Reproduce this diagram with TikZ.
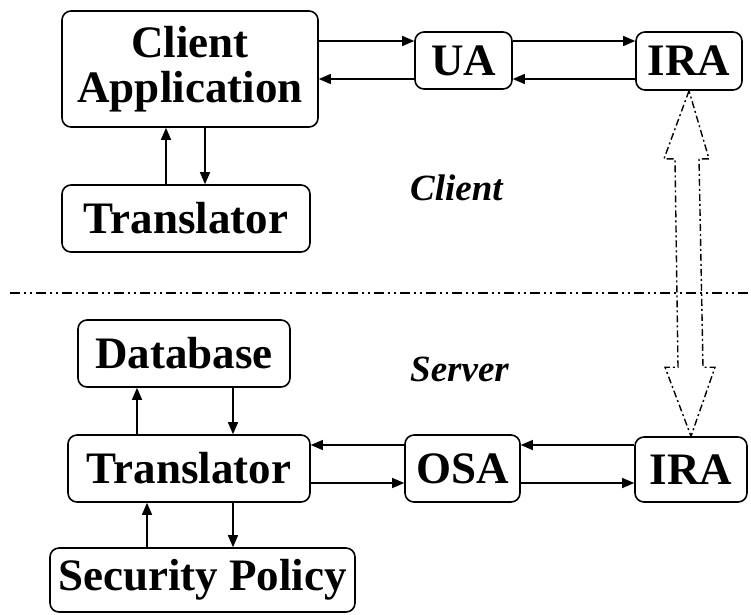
\documentclass[tikz,border=0pt]{standalone}
\usepackage{fontspec}
\setmainfont{Liberation Serif}
\usetikzlibrary{arrows.meta, calc}

\tikzset{
	box/.style={draw, rounded corners=9pt, line width=1.6pt, inner sep=0pt,
		font=\bfseries\fontsize{45}{45}\selectfont},
	flow/.style={line width=1.3pt, -{Triangle[length=12pt,width=10pt]}},
	side/.style={font=\bfseries\itshape\fontsize{37}{37}\selectfont, inner sep=0pt},
	dashdot/.style={line width=1.4pt, dash pattern=on 7pt off 3pt on 2pt off 3pt}
}

\begin{document}
\begin{tikzpicture}[x=1pt, y=-1pt]
	\useasboundingbox (0,0) rectangle (751,614);
	% client side
	\node[box, minimum width=256pt, minimum height=116pt, align=center] (app) at (190, 69) {Client\\Application};
	\node[box, minimum width=97pt, minimum height=57pt] (ua) at (463.5, 60.5) {UA};
	\node[box, minimum width=106pt, minimum height=58pt] (iraC) at (689, 61) {IRA};
	\node[box, minimum width=248pt, minimum height=67pt] (transC) at (186, 218.5) {Translator};
	\node[side, anchor=base west] (client) at (410, 200) {Client};
	% server side
	\node[side, anchor=base west] (server) at (410, 381) {Server};
	\node[box, minimum width=212pt, minimum height=67pt] (db) at (184, 353.5) {Database};
	\node[box, minimum width=242pt, minimum height=67pt] (transS) at (189, 468.5) {Translator};
	\node[box, minimum width=115pt, minimum height=67pt] (osa) at (462.5, 468.5) {OSA};
	\node[box, minimum width=112pt, minimum height=65pt] (iraS) at (691, 469.5) {IRA};
	\node[box, minimum width=305pt, minimum height=64pt] (sec) at (202.5, 580) {Security Policy};

	% separator
	\coordinate (sepL) at (10, 293);
	\coordinate (sepR) at (751, 293);
	\draw[dashdot, dash pattern=on 10pt off 4pt on 2pt off 4pt on 2pt off 4pt] (sepL) -- (sepR);

	% client arrows
	\draw[flow] (app.east |- 0,41) -- (ua.west |- 0,41);
	\draw[flow] (ua.west |- 0,79) -- (app.east |- 0,79);
	\draw[flow] (ua.east |- 0,41) -- (iraC.west |- 0,41);
	\draw[flow] (iraC.west |- 0,79) -- (ua.east |- 0,79);
	\draw[flow] (transC.north -| 166,0) -- (app.south -| 166,0);
	\draw[flow] (app.south -| 205,0) -- (transC.north -| 205,0);

	% server arrows
	\draw[flow] (transS.north -| 137,0) -- (db.south -| 137,0);
	\draw[flow] (db.south -| 233,0) -- (transS.north -| 233,0);
	\draw[flow] (sec.north -| 147,0) -- (transS.south -| 147,0);
	\draw[flow] (transS.south -| 233,0) -- (sec.north -| 233,0);
	\draw[flow] (osa.west |- 0,445) -- (transS.east |- 0,445);
	\draw[flow] (transS.east |- 0,483) -- (osa.west |- 0,483);
	\draw[flow] (iraS.west |- 0,445) -- (osa.east |- 0,445);
	\draw[flow] (osa.east |- 0,483) -- (iraS.west |- 0,483);

	% hollow double arrow between the two IRA
	\draw[dashdot] (iraC.south) -- ($(iraC.south)+(-25,68)$) -- ($(iraC.south)+(-14,68)$)
		-- ($(iraS.north)+(-13,-69)$) -- ($(iraS.north)+(-26,-69)$) -- (iraS.north)
		-- ($(iraS.north)+(24,-69)$) -- ($(iraS.north)+(12,-69)$)
		-- ($(iraC.south)+(10,68)$) -- ($(iraC.south)+(20,68)$) -- cycle;
\end{tikzpicture}
\end{document}
